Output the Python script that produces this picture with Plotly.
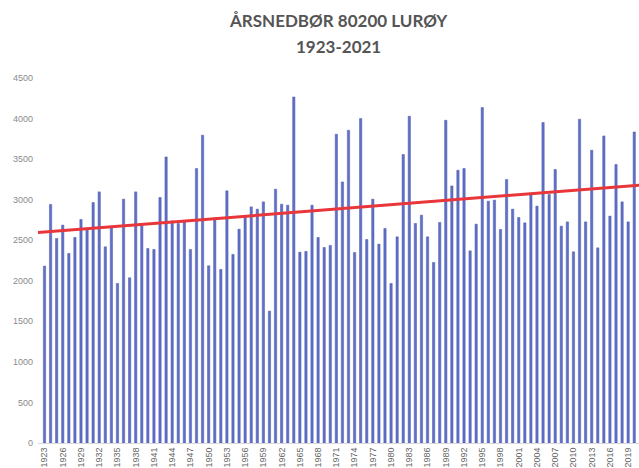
import numpy as np
import plotly.graph_objects as go

years = list(range(1923, 2021))
precip = [
    2181, 2941, 2522, 2686, 2337, 2534, 2756, 2633, 2965, 3096,  # 1923-1932
    2419, 2665, 1967, 3006, 2037, 3096, 2686, 2398, 2386, 3027,  # 1933-1942
    3527, 2739, 2707, 2726, 2386, 3384, 3795, 2185, 2776, 2140,  # 1943-1952
    3109, 2325, 2636, 2788, 2911, 2883, 2973, 1626, 3129, 2944,  # 1953-1962
    2932, 4266, 2353, 2362, 2932, 2534, 2411, 2436, 3807, 3219,  # 1963-1972
    3856, 2349, 4000, 2509, 3006, 2452, 2645, 1967, 2542, 3557,  # 1973-1982
    4029, 2707, 2809, 2542, 2226, 2719, 3979, 3170, 3363, 3384,  # 1983-1992
    2369, 2698, 4136, 2981, 2994, 2633, 3249, 2883, 2780, 2714,  # 1993-2002
    3064, 2920, 3951, 3064, 3372, 2673, 2726, 2357, 3992, 2726,  # 2003-2012
    3610, 2406, 3786, 2797, 3434, 2973, 2726, 3835,              # 2013-2020
]
tick_years = years[::3]
y_ticks = [0, 500, 1000, 1500, 2000, 2500, 3000, 3500, 4000, 4500]
title_lines = ["ÅRSNEDBØR 80200 LURØY", "1923-2021"]

# linear trend fitted to the series
coef = np.polyfit(years, precip, 1)
trend_x = [1921.5, 2021.5]
trend_y = [float(np.polyval(coef, x)) for x in trend_x]

fig = go.Figure()
fig.add_trace(go.Bar(
    x=years, y=precip,
    marker=dict(color="#6070c6", line=dict(color="#4c5ab0", width=0.5)),
    showlegend=False,
))
fig.add_trace(go.Scatter(
    x=trend_x, y=trend_y, mode="lines",
    line=dict(color="#e8363a", width=3),
    showlegend=False,
))

title_font = dict(family="Lato", size=17, color="#555555")
fig.add_annotation(
    text="<b>" + title_lines[0] + "</b>", xref="paper", yref="paper",
    x=0.5, y=1, xanchor="center", yanchor="middle", yshift=58,
    showarrow=False, font=title_font,
)
fig.add_annotation(
    text="<b>" + title_lines[1] + "</b>", xref="paper", yref="paper",
    x=0.5, y=1, xanchor="center", yanchor="middle", yshift=32,
    showarrow=False, font=title_font,
)

fig.update_layout(
    width=639, height=468,
    margin=dict(l=38, r=0, t=78, b=25),
    paper_bgcolor="white", plot_bgcolor="white",
    bargap=0.62,
    xaxis=dict(
        range=[1921.93, 2020.78],
        tickmode="array", tickvals=tick_years,
        ticktext=[str(y) for y in tick_years],
        tickangle=-90,
        tickfont=dict(family="Liberation Sans", size=9, color="#666666"),
        showgrid=False, zeroline=False,
        showline=True, linecolor="#d9d9d9", linewidth=1,
        ticks="", automargin=False,
    ),
    yaxis=dict(
        range=[0, 4500],
        tickmode="array", tickvals=y_ticks,
        tickfont=dict(family="Liberation Sans", size=9, color="#8a8a8a"),
        showgrid=False, zeroline=False, showline=False, ticks="",
        ticklabelstandoff=4,
        automargin=False,
    ),
)

fig.write_html(
    "out.html",
    config={"displayModeBar": False},
    post_script="document.body.style.margin='0';document.body.style.overflow='hidden';",
)
